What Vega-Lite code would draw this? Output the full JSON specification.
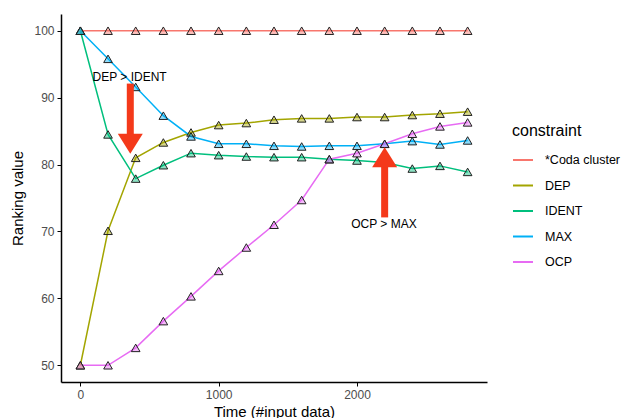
{
  "$schema": "https://vega.github.io/schema/vega-lite/v6.json",
  "autosize": "none",
  "width": 426,
  "height": 368,
  "padding": {"left": 61, "top": 14, "right": 134, "bottom": 36},
  "background": "white",
  "config": {
    "font": "Liberation Sans",
    "view": {"stroke": null},
    "axis": {
      "grid": false,
      "domainColor": "black",
      "domainWidth": 1.5,
      "tickColor": "black",
      "tickWidth": 1,
      "tickSize": 4,
      "labelColor": "#4D4D4D",
      "labelFontSize": 12,
      "labelPadding": 3,
      "titleFontSize": 15,
      "titleFontWeight": "normal",
      "titleColor": "black"
    }
  },
  "datasets": {
    "series": [
      {"t": 0, "v": 100, "c": "*Coda cluster"}, {"t": 200, "v": 100, "c": "*Coda cluster"}, {"t": 400, "v": 100, "c": "*Coda cluster"}, {"t": 600, "v": 100, "c": "*Coda cluster"}, {"t": 800, "v": 100, "c": "*Coda cluster"}, {"t": 1000, "v": 100, "c": "*Coda cluster"}, {"t": 1200, "v": 100, "c": "*Coda cluster"}, {"t": 1400, "v": 100, "c": "*Coda cluster"}, {"t": 1600, "v": 100, "c": "*Coda cluster"}, {"t": 1800, "v": 100, "c": "*Coda cluster"}, {"t": 2000, "v": 100, "c": "*Coda cluster"}, {"t": 2200, "v": 100, "c": "*Coda cluster"}, {"t": 2400, "v": 100, "c": "*Coda cluster"}, {"t": 2600, "v": 100, "c": "*Coda cluster"}, {"t": 2800, "v": 100, "c": "*Coda cluster"},
      {"t": 0, "v": 50, "c": "DEP"}, {"t": 200, "v": 70.1, "c": "DEP"}, {"t": 400, "v": 81.0, "c": "DEP"}, {"t": 600, "v": 83.3, "c": "DEP"}, {"t": 800, "v": 84.8, "c": "DEP"}, {"t": 1000, "v": 85.9, "c": "DEP"}, {"t": 1200, "v": 86.2, "c": "DEP"}, {"t": 1400, "v": 86.7, "c": "DEP"}, {"t": 1600, "v": 86.9, "c": "DEP"}, {"t": 1800, "v": 86.9, "c": "DEP"}, {"t": 2000, "v": 87.1, "c": "DEP"}, {"t": 2200, "v": 87.1, "c": "DEP"}, {"t": 2400, "v": 87.4, "c": "DEP"}, {"t": 2600, "v": 87.6, "c": "DEP"}, {"t": 2800, "v": 87.9, "c": "DEP"},
      {"t": 0, "v": 100, "c": "IDENT"}, {"t": 200, "v": 84.5, "c": "IDENT"}, {"t": 400, "v": 77.9, "c": "IDENT"}, {"t": 600, "v": 79.9, "c": "IDENT"}, {"t": 800, "v": 81.7, "c": "IDENT"}, {"t": 1000, "v": 81.4, "c": "IDENT"}, {"t": 1200, "v": 81.2, "c": "IDENT"}, {"t": 1400, "v": 81.1, "c": "IDENT"}, {"t": 1600, "v": 81.1, "c": "IDENT"}, {"t": 1800, "v": 80.8, "c": "IDENT"}, {"t": 2000, "v": 80.6, "c": "IDENT"}, {"t": 2200, "v": 80.3, "c": "IDENT"}, {"t": 2400, "v": 79.4, "c": "IDENT"}, {"t": 2600, "v": 79.8, "c": "IDENT"}, {"t": 2800, "v": 78.9, "c": "IDENT"},
      {"t": 0, "v": 100, "c": "MAX"}, {"t": 200, "v": 95.8, "c": "MAX"}, {"t": 400, "v": 91.6, "c": "MAX"}, {"t": 600, "v": 87.3, "c": "MAX"}, {"t": 800, "v": 84.2, "c": "MAX"}, {"t": 1000, "v": 83.1, "c": "MAX"}, {"t": 1200, "v": 83.1, "c": "MAX"}, {"t": 1400, "v": 82.8, "c": "MAX"}, {"t": 1600, "v": 82.7, "c": "MAX"}, {"t": 1800, "v": 82.8, "c": "MAX"}, {"t": 2000, "v": 82.8, "c": "MAX"}, {"t": 2200, "v": 83.1, "c": "MAX"}, {"t": 2400, "v": 83.5, "c": "MAX"}, {"t": 2600, "v": 83.0, "c": "MAX"}, {"t": 2800, "v": 83.6, "c": "MAX"},
      {"t": 0, "v": 50, "c": "OCP"}, {"t": 200, "v": 50, "c": "OCP"}, {"t": 400, "v": 52.6, "c": "OCP"}, {"t": 600, "v": 56.6, "c": "OCP"}, {"t": 800, "v": 60.3, "c": "OCP"}, {"t": 1000, "v": 64.1, "c": "OCP"}, {"t": 1200, "v": 67.6, "c": "OCP"}, {"t": 1400, "v": 71.0, "c": "OCP"}, {"t": 1600, "v": 74.7, "c": "OCP"}, {"t": 1800, "v": 80.8, "c": "OCP"}, {"t": 2000, "v": 81.7, "c": "OCP"}, {"t": 2200, "v": 83.1, "c": "OCP"}, {"t": 2400, "v": 84.6, "c": "OCP"}, {"t": 2600, "v": 85.7, "c": "OCP"}, {"t": 2800, "v": 86.3, "c": "OCP"}
    ],
    "shafts": [
      {"t": 361, "y1": 92.1, "y2": 84.0},
      {"t": 2200, "y1": 72.1, "y2": 80.2}
    ],
    "headsDown": [{"t": 361, "v": 83.1}],
    "headsUp": [{"t": 2200, "v": 81.1}],
    "labels": [
      {"t": 356, "v": 93.1, "txt": "DEP > IDENT"},
      {"t": 2195, "v": 71.1, "txt": "OCP > MAX"}
    ]
  },
  "layer": [
    {
      "data": {"name": "series"},
      "mark": {"type": "line", "strokeWidth": 1.5},
      "encoding": {
        "x": {"field": "t", "type": "quantitative", "title": "Time (#input data)",
              "scale": {"domain": [-140, 2940], "nice": false, "zero": false},
              "axis": {"values": [0, 1000, 2000], "format": "d", "titlePadding": 4}},
        "y": {"field": "v", "type": "quantitative", "title": "Ranking value",
              "scale": {"domain": [47.5, 102.5], "nice": false, "zero": false},
              "axis": {"values": [50, 60, 70, 80, 90, 100], "titlePadding": 8}},
        "color": {"field": "c", "type": "nominal",
                  "scale": {"domain": ["*Coda cluster", "DEP", "IDENT", "MAX", "OCP"],
                            "range": ["#F8766D", "#A3A500", "#00BF7D", "#00B0F6", "#E76BF3"]},
                  "legend": {"title": "constraint", "orient": "none", "legendX": 451, "legendY": 109,
                             "symbolType": "stroke", "symbolSize": 400, "symbolStrokeWidth": 2,
                             "titleFontSize": 16, "titleFontWeight": "normal", "titleColor": "black", "titlePadding": 10,
                             "labelFontSize": 12.5, "labelColor": "black", "labelOffset": 11, "rowPadding": 7.5}}
      }
    },
    {
      "data": {"name": "series"},
      "mark": {"type": "point", "shape": "triangle-up", "filled": true, "size": 75, "fillOpacity": 0.45, "stroke": "#222222", "strokeWidth": 1},
      "encoding": {
        "x": {"field": "t", "type": "quantitative"},
        "y": {"field": "v", "type": "quantitative"},
        "fill": {"field": "c", "type": "nominal", "legend": null,
                 "scale": {"domain": ["*Coda cluster", "DEP", "IDENT", "MAX", "OCP"],
                           "range": ["#F8766D", "#A3A500", "#00BF7D", "#00B0F6", "#E76BF3"]}}
      }
    },
    {
      "data": {"name": "shafts"},
      "mark": {"type": "rule", "color": "#F4391A", "strokeWidth": 7},
      "encoding": {
        "x": {"field": "t", "type": "quantitative"},
        "y": {"field": "y1", "type": "quantitative"},
        "y2": {"field": "y2"}
      }
    },
    {
      "data": {"name": "headsDown"},
      "mark": {"type": "point", "shape": "M-1,-0.8L1,-0.8L0,0.8Z", "filled": true, "size": 625, "color": "#F4391A", "opacity": 1},
      "encoding": {
        "x": {"field": "t", "type": "quantitative"},
        "y": {"field": "v", "type": "quantitative"}
      }
    },
    {
      "data": {"name": "headsUp"},
      "mark": {"type": "point", "shape": "M-1,0.8L1,0.8L0,-0.8Z", "filled": true, "size": 625, "color": "#F4391A", "opacity": 1},
      "encoding": {
        "x": {"field": "t", "type": "quantitative"},
        "y": {"field": "v", "type": "quantitative"}
      }
    },
    {
      "data": {"name": "labels"},
      "mark": {"type": "text", "fontSize": 12, "color": "black", "align": "center", "baseline": "middle"},
      "encoding": {
        "x": {"field": "t", "type": "quantitative"},
        "y": {"field": "v", "type": "quantitative"},
        "text": {"field": "txt"}
      }
    }
  ]
}
